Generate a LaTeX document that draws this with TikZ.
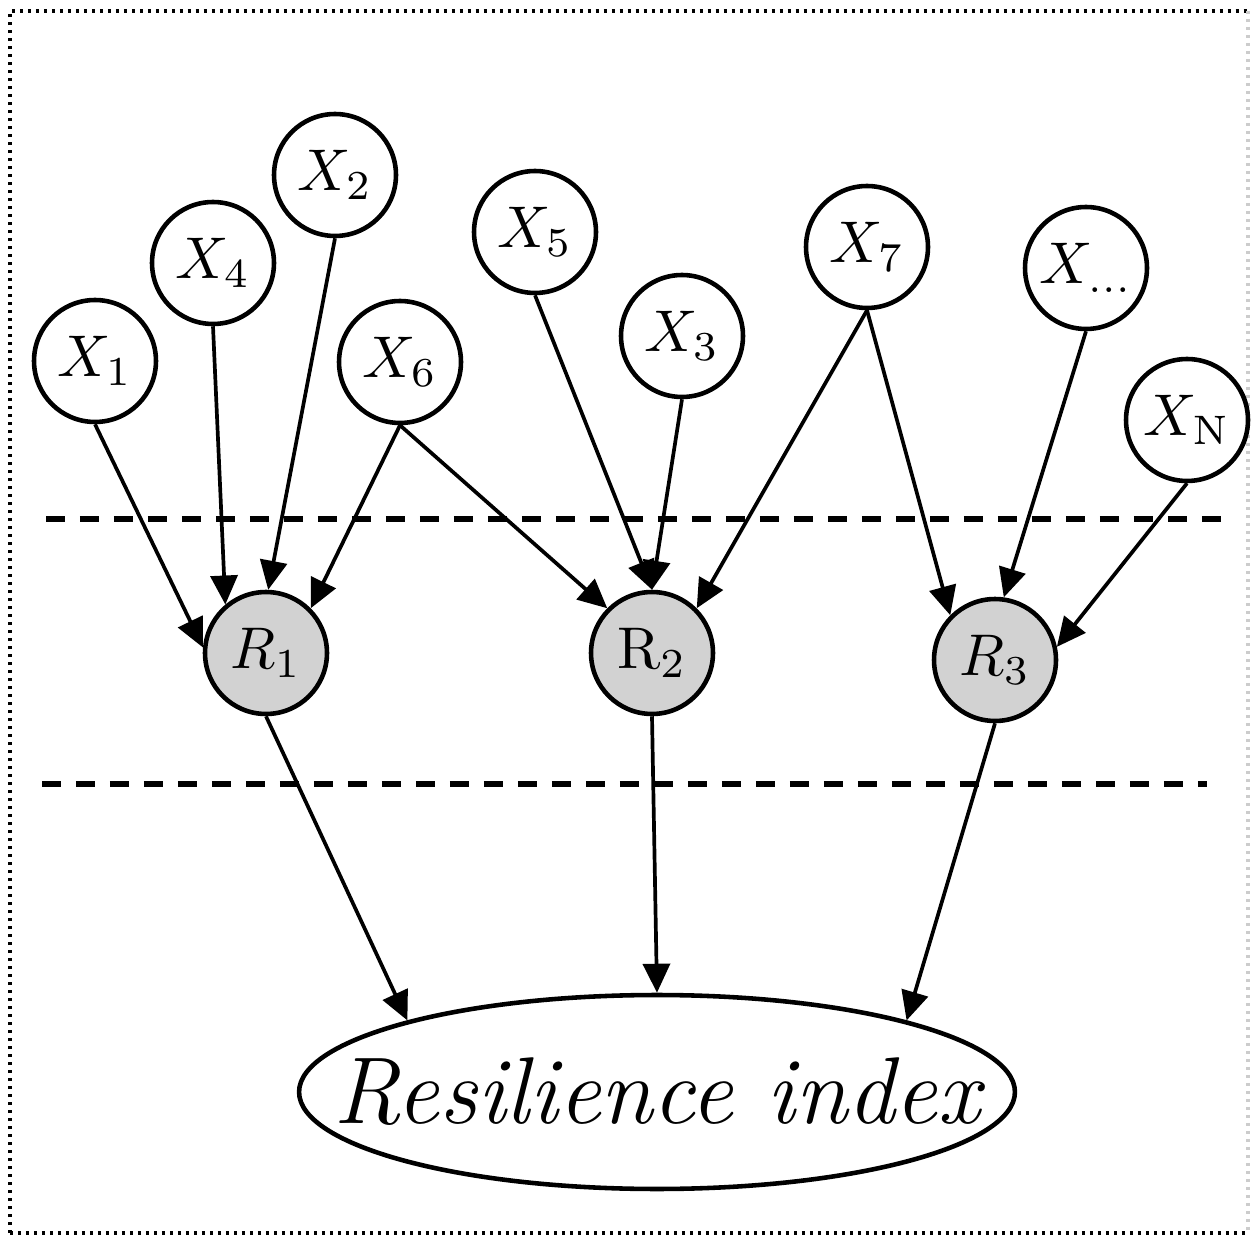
\documentclass[tikz,border=0pt]{standalone}
\usepackage{graphicx}
\usetikzlibrary{arrows.meta,shapes.geometric}
\newcommand{\biglab}[1]{\scalebox{3.35}{$#1$}}
\begin{document}
\begin{tikzpicture}[x=0.02cm,y=-0.02cm,
  xnode/.style={circle,draw=black,line width=2.6pt,fill=white,minimum size=2.44cm,inner sep=0pt},
  rnode/.style={xnode,fill=gray!35},
  resnode/.style={ellipse,draw=black,line width=2.6pt,minimum width=14.32cm,minimum height=3.88cm,inner sep=0pt},
  restext/.style={font=\fontsize{54}{60}\selectfont\itshape,inner sep=0pt},
  conn/.style={line width=2.1pt,-{Triangle[length=0.58cm,width=0.54cm]}},
  sep/.style={line width=3.2pt,dash pattern=on 0.38cm off 0.3cm},
  frame/.style={line width=2.5pt,dash pattern=on 0.06cm off 0.1cm}
]
\useasboundingbox (0,0) rectangle (1251,1239);
% frame
\draw[frame] (10,1233) -- (10,11) -- (1248,11);
\draw[frame] (10,1233) -- (1248,1233);
\draw[frame,gray!40] (1248,11) -- (1248,1233);
% separators
\coordinate (d1a) at (46,519);
\coordinate (d1b) at (1223,519);
\coordinate (d2a) at (42,784);
\coordinate (d2b) at (1207,784);
\draw[sep] (d1a) -- (d1b);
\draw[sep] (d2a) -- (d2b);
% nodes
\node[xnode] (X1) at (95,361) {\biglab{X_1}};
\node[xnode] (X4) at (213,263) {\biglab{X_4}};
\node[xnode] (X2) at (335,175) {\biglab{X_2}};
\node[xnode] (X6) at (400,362) {\biglab{X_6}};
\node[xnode] (X5) at (535,232) {\biglab{X_5}};
\node[xnode] (X3) at (682,336) {\biglab{X_3}};
\node[xnode] (X7) at (867,247) {\biglab{X_7}};
\node[xnode] (Xd) at (1086,268) {\biglab{X_{\ldots}}};
\node[xnode] (XN) at (1187,420) {\biglab{X_{\mathrm{N}}}};
\node[rnode] (R1) at (266,653) {\biglab{R_1}};
\node[rnode] (R2) at (652,653) {\biglab{\mathrm{R}_2}};
\node[rnode] (R3) at (995,660) {\biglab{R_3}};
\node[resnode] (res) at (657,1092) {};
\node[restext] (restxt) at (res.center) {Resilience index};
% connectors
\draw[conn] (X1.south) -- (R1.175);
\draw[conn] (X4.south) -- (R1.130);
\draw[conn] (X2.south) -- (R1.88);
\draw[conn] (X6.south) -- (R1.45);
\draw[conn] (X6.south) -- (R2.135);
\draw[conn] (X5.south) -- (R2.90);
\draw[conn] (X3.south) -- (R2.90);
\draw[conn] (X7.south) -- (R2.45);
\draw[conn] (X7.south) -- (R3.135);
\draw[conn] (Xd.south) -- (R3.82);
\draw[conn] (XN.south) -- (R3.12);
\draw[conn] (R1.south) -- (res.164);
\draw[conn] (R2.south) -- (res.north);
\draw[conn] (R3.south) -- (res.16);
\end{tikzpicture}
\end{document}
